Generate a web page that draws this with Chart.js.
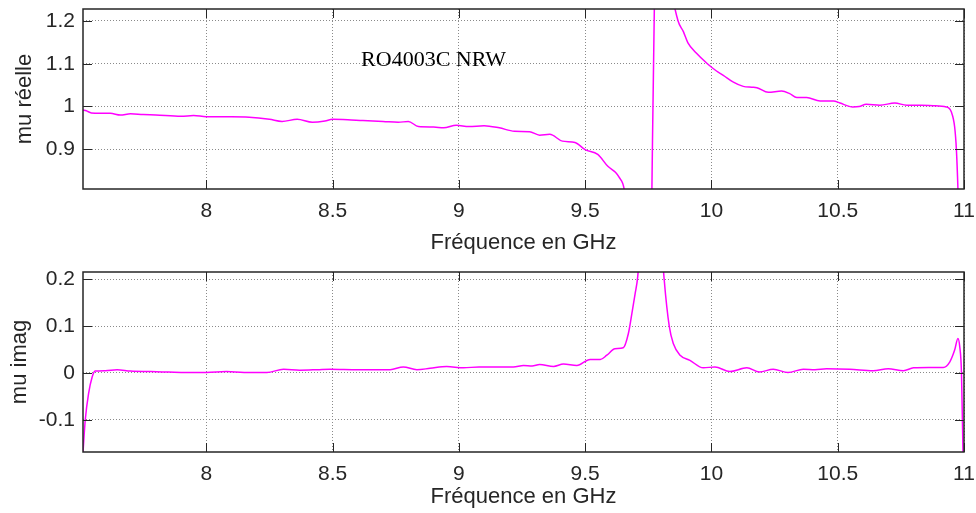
<!DOCTYPE html>
<html>
<head>
<meta charset="utf-8">
<script src="https://cdn.jsdelivr.net/npm/chart.js@4.4.1/dist/chart.umd.min.js"></script>
<style>
  html,body{margin:0;padding:0;background:#fff;}
  canvas{display:block;}
</style>
</head>
<body>
<canvas id="re-chart" width="976" height="260"></canvas>
<canvas id="im-chart" width="976" height="253"></canvas>
<script>
/* data (GHz / permeability) */
var X_TICKS = [8, 8.5, 9, 9.5, 10, 10.5, 11];
var RE_TICKS = [0.9, 1, 1.1, 1.2];
var IM_TICKS = [-0.1, 0, 0.1, 0.2];

var FREQ_RE = [7.512,7.525,7.545,7.58,7.62,7.66,7.7,7.75,7.8,7.9,7.95,8.0,8.1,8.17,8.25,8.3,8.36,8.42,8.47,8.5,
  8.56,8.62,8.7,8.76,8.8,8.84,8.9,8.94,8.99,9.04,9.1,9.16,9.22,9.28,9.32,9.36,9.41,9.46,9.5,9.55,
  9.59,9.62,9.635,9.655,9.69,9.72,9.745,9.758,9.778,9.8,9.84,9.868,9.889,9.907,9.94,9.984,10.02,10.047,10.087,10.126,
  10.16,10.18,10.225,10.278,10.31,10.338,10.377,10.43,10.483,10.509,10.56,10.585,10.613,10.667,10.726,10.773,10.83,10.878,10.93,10.95,
  10.963,10.97,10.976,10.99,11.0];
var MU_RE = [0.992,0.990,0.985,0.984,0.984,0.980,0.983,0.981,0.980,0.977,0.979,0.976,0.976,0.975,0.970,0.965,0.970,0.963,0.966,0.970,
  0.969,0.967,0.965,0.963,0.965,0.953,0.952,0.950,0.956,0.953,0.955,0.950,0.942,0.941,0.933,0.935,0.919,0.916,0.899,0.888,
  0.860,0.846,0.834,0.805,0.6,0.35,0.3,0.5,1.4,1.5,1.28,1.2,1.175,1.149,1.125,1.1,1.083,1.073,1.057,1.047,
  1.045,1.044,1.033,1.036,1.03,1.021,1.021,1.013,1.013,1.008,0.999,1.0,1.005,1.003,1.008,1.003,1.003,1.002,0.999,0.987,
  0.952,0.898,0.807,0.5,0.3];

var FREQ_IM = [7.512,7.521,7.534,7.548,7.56,7.6,7.647,7.7,7.78,7.85,7.92,8.0,8.08,8.15,8.24,8.306,8.37,8.44,8.49,8.6,
  8.728,8.78,8.834,8.886,8.952,9.018,9.08,9.15,9.216,9.256,9.29,9.32,9.375,9.414,9.467,9.52,9.56,9.586,9.618,9.651,
  9.671,9.685,9.698,9.708,9.74,9.77,9.8,9.813,9.833,9.849,9.876,9.915,9.968,10.014,10.073,10.14,10.19,10.245,10.303,10.364,
  10.41,10.456,10.548,10.64,10.7,10.76,10.8,10.86,10.918,10.944,10.963,10.976,10.983,10.99,10.996,11.0];
var MU_IM = [-0.17,-0.10,-0.044,-0.009,0.004,0.005,0.007,0.004,0.003,0.002,0.001,0.001,0.003,0.001,0.001,0.008,0.006,0.007,0.008,0.007,
  0.007,0.013,0.007,0.010,0.014,0.011,0.013,0.013,0.013,0.016,0.015,0.018,0.014,0.019,0.016,0.029,0.029,0.038,0.052,0.054,
  0.084,0.127,0.170,0.205,0.45,0.6,0.3,0.2,0.1,0.063,0.038,0.027,0.011,0.013,0.003,0.011,0.002,0.008,0.001,0.008,
  0.007,0.009,0.008,0.005,0.009,0.005,0.011,0.012,0.012,0.024,0.049,0.074,0.057,0.0,-0.17,-0.3];

var SANS = "'Liberation Sans', Arial, sans-serif";
var INK = '#262626';

// matlab-like box, inward ticks and the text note
var boxPlugin = {
  id:'boxPlugin',
  afterDatasetsDraw:function(chart, args, opts){
    var ctx = chart.ctx, a = chart.chartArea;
    var xs = chart.scales.x, ys = chart.scales.y;
    ctx.save();
    ctx.strokeStyle = INK;
    ctx.lineWidth = 1;
    ctx.beginPath();
    X_TICKS.forEach(function(v){
      var px = Math.round(xs.getPixelForValue(v)) + 0.5;
      ctx.moveTo(px, a.top); ctx.lineTo(px, a.top + 9);
      ctx.moveTo(px, a.bottom); ctx.lineTo(px, a.bottom - 9);
    });
    ys.ticks.forEach(function(t){
      var py = Math.round(ys.getPixelForValue(t.value)) + 0.5;
      ctx.moveTo(a.left, py); ctx.lineTo(a.left + 9, py);
      ctx.moveTo(a.right, py); ctx.lineTo(a.right - 9, py);
    });
    ctx.stroke();
    ctx.lineWidth = 1.5;
    ctx.strokeRect(a.left, a.top, a.right - a.left, a.bottom - a.top);
    if(opts.note){
      ctx.fillStyle = '#000';
      ctx.font = "22px 'Liberation Serif', 'Times New Roman', serif";
      ctx.textBaseline = 'alphabetic';
      ctx.fillText(opts.note, xs.getPixelForValue(opts.noteX), ys.getPixelForValue(opts.noteY));
    }
    ctx.restore();
  }
};

function fmt(v){ return String(+Number(v).toFixed(2)); }

function buildPlot(id, freq, vals, yTicks, yMin, yMax, yTitle, cfg){
  var ctx = document.getElementById(id);
  var pts = freq.map(function(f, i){ return {x:f, y:vals[i]}; });
  return new Chart(ctx, {
    type:'line',
    data:{ datasets:[{
      data:pts,
      borderColor:'#ff00ff',
      borderWidth:1.5,
      pointRadius:0,
      fill:false,
      cubicInterpolationMode:'monotone'
    }]},
    plugins:[boxPlugin],
    options:{
      responsive:false,
      animation:false,
      events:[],
      layout:{padding:{top:cfg.padTop, right:12, left:0, bottom:0}},
      plugins:{
        legend:{display:false},
        tooltip:{enabled:false},
        boxPlugin:{note:cfg.note, noteX:cfg.noteX, noteY:cfg.noteY}
      },
      scales:{
        x:{
          type:'linear', min:7.512, max:11,
          afterBuildTicks:function(s){ s.ticks = X_TICKS.map(function(v){ return {value:v}; }); },
          afterFit:function(s){ s.height = cfg.xHeight; s.paddingLeft = 0; s.paddingRight = 0; },
          grid:{color:'#8a8a8a', drawTicks:false, lineWidth:1},
          border:{display:false, dash:[1,2]},
          ticks:{padding:10, color:INK, font:{family:SANS, size:21}, maxRotation:0, autoSkip:false, callback:fmt},
          title:{display:true, text:'Fréquence en GHz', color:INK, font:{family:SANS, size:22}, padding:{top:0, bottom:cfg.xTitlePad}}
        },
        y:{
          type:'linear', min:yMin, max:yMax,
          afterBuildTicks:function(s){ s.ticks = yTicks.map(function(v){ return {value:v}; }); },
          afterFit:function(s){ s.width = 83; s.paddingTop = 0; s.paddingBottom = 0; },
          grid:{color:'#8a8a8a', drawTicks:false, lineWidth:1},
          border:{display:false, dash:[1,2]},
          ticks:{padding:8, color:INK, font:{family:SANS, size:21}, autoSkip:false, callback:fmt},
          title:{display:true, text:yTitle, color:INK, font:{family:SANS, size:22}, padding:{top:cfg.yTitlePad, bottom:0}}
        }
      }
    }
  });
}

buildPlot('re-chart', FREQ_RE, MU_RE, RE_TICKS, 0.807, 1.228, 'mu réelle',
  {padTop:9, xHeight:71, xTitlePad:4, yTitlePad:12, note:'RO4003C NRW', noteX:8.613, noteY:1.095});
buildPlot('im-chart', FREQ_IM, MU_IM, IM_TICKS, -0.169, 0.216, 'mu imag',
  {padTop:12, xHeight:61, xTitlePad:3, yTitlePad:7});
</script>
</body>
</html>
